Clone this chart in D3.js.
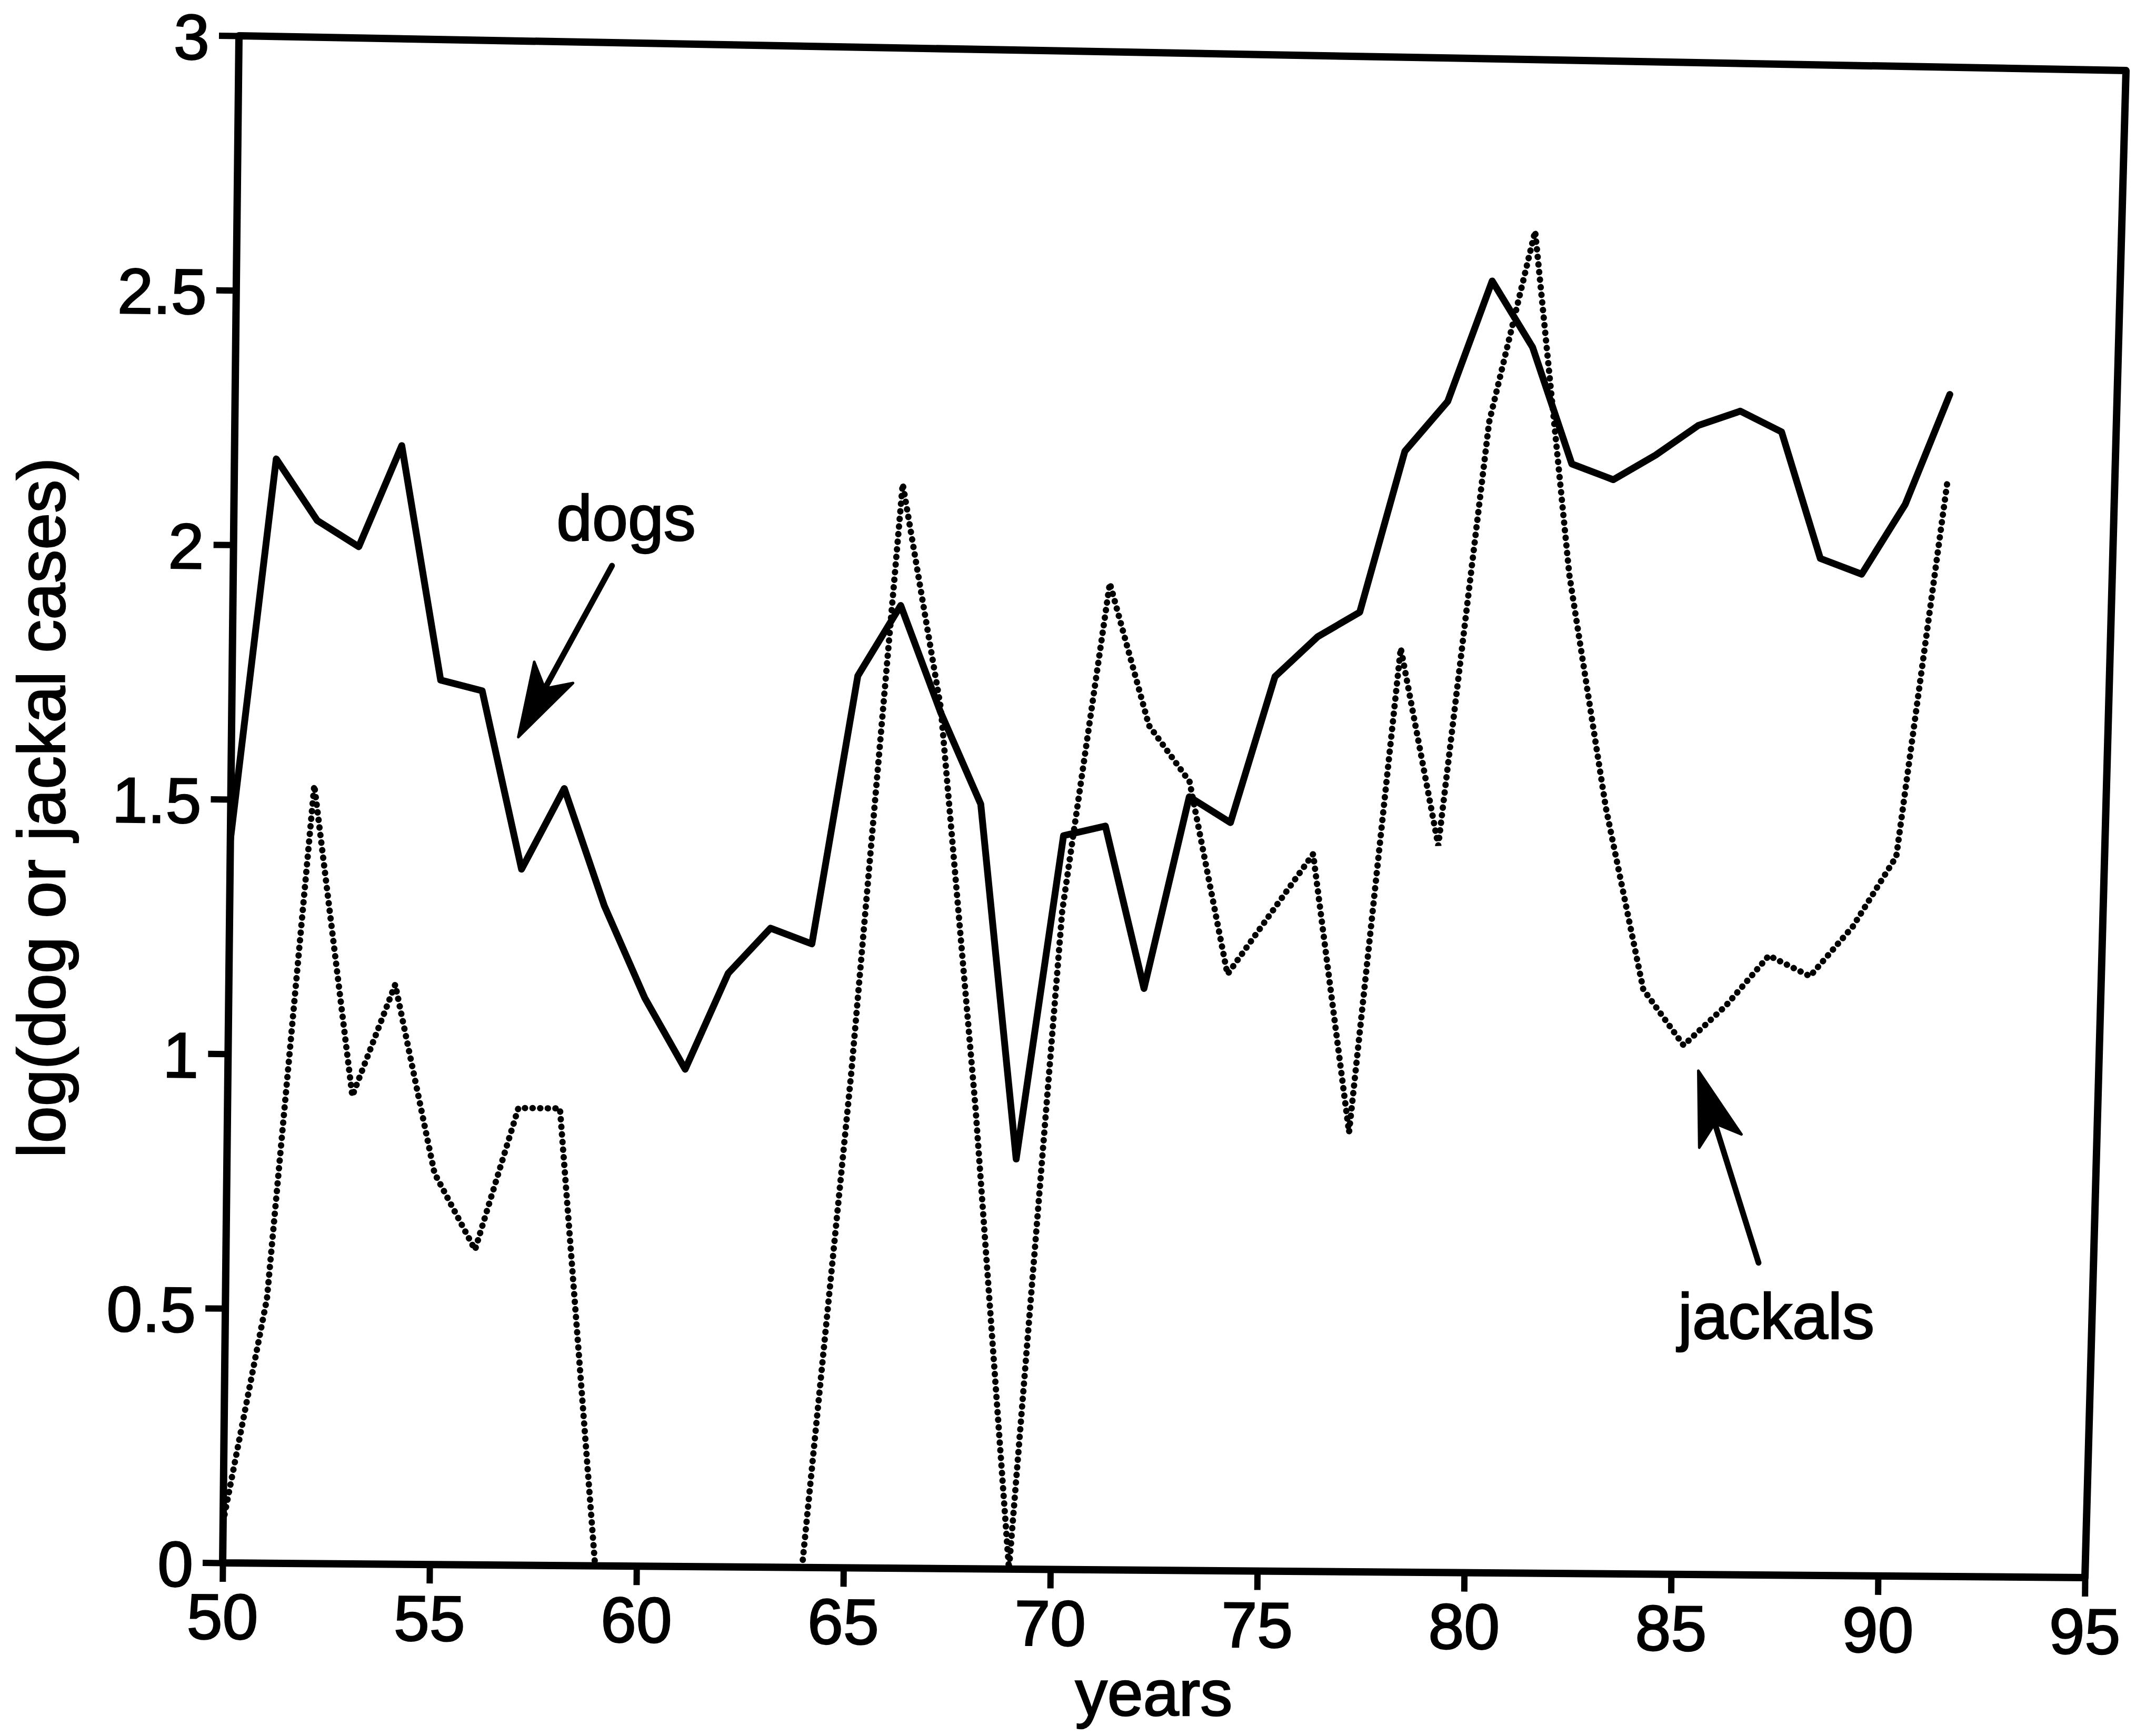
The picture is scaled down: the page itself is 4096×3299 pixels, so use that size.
<!DOCTYPE html>
<html>
<head>
<meta charset="utf-8">
<script src="https://cdn.jsdelivr.net/npm/d3@7"></script>
<style>
  html, body { margin: 0; padding: 0; background: #fff; }
  svg { display: block; }
  text { font-family: "Liberation Sans", Arial, Helvetica, sans-serif; fill: #000; stroke: #000; stroke-width: 2.5px; }
</style>
</head>
<body>
<div id="chart"></div>
<script>
// log(dog or jackal cases) per year
var years = [50,51,52,53,54,55,56,57,58,59,60,61,62,63,64,65,66,67,68,69,70,
             71,72,73,74,75,76,77,78,79,80,81,82,83,84,85,86,87,88,89,90,91];

var dogs = [1.42,2.17,2.05,2.00,2.20,1.74,1.72,1.37,1.53,1.30,1.12,0.98,1.17,1.26,1.23,1.76,1.90,1.69,1.51,0.81,1.45,
            1.47,1.15,1.53,1.48,1.77,1.85,1.90,2.22,2.32,2.56,2.43,2.20,2.17,2.22,2.28,2.31,2.27,2.02,1.99,2.13,2.35];

// no jackal cases reported 60-63, so no log value there
var jackals = [0.08,0.52,1.53,0.92,1.14,0.77,0.62,0.90,0.90,0.00,null,null,null,null,0.00,0.98,2.14,1.70,0.91,0.00,1.30,
               1.95,1.67,1.56,1.18,1.30,1.42,0.87,1.83,1.44,2.28,2.66,1.98,1.52,1.16,1.05,1.13,1.23,1.19,1.29,1.43,2.18];

var xTicks = [50,55,60,65,70,75,80,85,90,95];
var yTicks = [0,0.5,1,1.5,2,2.5,3];
var yTickLabels = ["0","0.5","1","1.5","2","2.5","3"];

var width = 4096, height = 3299;

// the printed frame is not square on the page (scan), so keep its four corners
var TL = [454, 68], TR = [4039, 134], BL = [423, 2970], BR = [3961, 2998];

var xs = d3.scaleLinear().domain([50, 95]).range([0, 1]);
var ys = d3.scaleLinear().domain([0, 3]).range([1, 0]);

function warp(u, v) {
  return [
    (1-u)*(1-v)*TL[0] + u*(1-v)*TR[0] + (1-u)*v*BL[0] + u*v*BR[0],
    (1-u)*(1-v)*TL[1] + u*(1-v)*TR[1] + (1-u)*v*BL[1] + u*v*BR[1]
  ];
}
function pt(yr, val) { return warp(xs(yr), ys(val)); }

var svg = d3.select("#chart").append("svg")
    .attr("width", width)
    .attr("height", height);

svg.append("rect").attr("width", width).attr("height", height).attr("fill", "#fff");

var fontSize = 122;

// bottom axis, laid along the bottom edge of the frame
var bLen = Math.hypot(BR[0]-BL[0], BR[1]-BL[1]);
var bAng = Math.atan2(BR[1]-BL[1], BR[0]-BL[0]) * 180 / Math.PI;
var xAxisScale = d3.scaleLinear().domain([50, 95]).range([0, bLen]);

var gx = svg.append("g")
    .attr("transform", "translate(" + BL[0] + "," + BL[1] + ") rotate(" + bAng + ")")
    .call(d3.axisBottom(xAxisScale).tickValues(xTicks).tickSize(36).tickPadding(22).tickSizeOuter(0));
gx.select(".domain").remove();
gx.selectAll(".tick line").attr("stroke", "#000").attr("stroke-width", 12);
gx.selectAll(".tick text").attr("font-size", fontSize).attr("font-family", null);

// left axis, laid along the left edge
var lLen = Math.hypot(BL[0]-TL[0], BL[1]-TL[1]);
var lAng = Math.atan2(-(BL[0]-TL[0]), BL[1]-TL[1]) * 180 / Math.PI;
var yAxisScale = d3.scaleLinear().domain([0, 3]).range([lLen, 0]);

var gy = svg.append("g")
    .attr("transform", "translate(" + TL[0] + "," + TL[1] + ") rotate(" + lAng + ")")
    .call(d3.axisLeft(yAxisScale).tickValues(yTicks).tickSize(38).tickPadding(18).tickSizeOuter(0)
      .tickFormat(function(d, i){ return yTickLabels[i]; }));
gy.select(".domain").remove();
gy.selectAll(".tick line").attr("stroke", "#000").attr("stroke-width", 12);
gy.selectAll(".tick text").attr("font-size", fontSize).attr("font-family", null).attr("dy", "0.37em");

// frame
svg.append("path")
    .attr("d", "M" + [TL, TR, BR, BL].map(function(p){ return p.join(","); }).join("L") + "Z")
    .attr("fill", "none")
    .attr("stroke", "#000")
    .attr("stroke-width", 14)
    .attr("stroke-linejoin", "round");

// series
var jackData = years.map(function(yr, i){ return {yr: yr, v: jackals[i]}; });
var dogData  = years.map(function(yr, i){ return {yr: yr, v: dogs[i]}; });

var line = d3.line()
    .defined(function(d){ return d.v !== null; })
    .x(function(d){ return pt(d.yr, d.v)[0]; })
    .y(function(d){ return pt(d.yr, d.v)[1]; });

svg.append("path")
    .datum(jackData)
    .attr("class", "jackals")
    .attr("d", line)
    .attr("fill", "none")
    .attr("stroke", "#000")
    .attr("stroke-width", 12)
    .attr("stroke-linecap", "round")
    .attr("stroke-dasharray", "0.5 14");

svg.append("path")
    .datum(dogData)
    .attr("class", "dogs")
    .attr("d", line)
    .attr("fill", "none")
    .attr("stroke", "#000")
    .attr("stroke-width", 13)
    .attr("stroke-linejoin", "round")
    .attr("stroke-linecap", "round");

// axis titles
var bMid = warp(0.5, 1);
svg.append("text")
    .attr("x", bMid[0])
    .attr("y", bMid[1] + 276)
    .attr("text-anchor", "middle")
    .attr("font-size", fontSize)
    .text("years");

var lMid = warp(0, 0.5);
svg.append("text")
    .attr("transform", "translate(" + (lMid[0] - 316) + "," + (lMid[1] + 16) + ") rotate(-90)")
    .attr("text-anchor", "middle")
    .attr("font-size", 126)
    .text("log(dog or jackal cases)");

// labels with arrows
var notes = [
  {text: "dogs",    at: [59.4, 2.02], from: [59.07, 1.97], to: [56.88, 1.63]},
  {text: "jackals", at: [87.4, 0.47], from: [86.93, 0.62], to: [85.37, 1.00]}
];

notes.forEach(function(n){
  var p = pt(n.at[0], n.at[1]);
  svg.append("text")
      .attr("x", p[0]).attr("y", p[1])
      .attr("text-anchor", "middle")
      .attr("font-size", fontSize)
      .text(n.text);

  var a = pt(n.from[0], n.from[1]), b = pt(n.to[0], n.to[1]);
  var dx = b[0]-a[0], dy = b[1]-a[1], len = Math.hypot(dx, dy);
  var ux = dx/len, uy = dy/len, nx = -uy, ny = ux;
  var headLen = 140, headW = 42;
  var back = [b[0]-ux*headLen*0.75, b[1]-uy*headLen*0.75];

  svg.append("line")
      .attr("x1", a[0]).attr("y1", a[1])
      .attr("x2", back[0]).attr("y2", back[1])
      .attr("stroke", "#000")
      .attr("stroke-width", 11)
      .attr("stroke-linecap", "round");

  var head = [
    b,
    [b[0]-ux*headLen+nx*headW, b[1]-uy*headLen+ny*headW],
    back,
    [b[0]-ux*headLen-nx*headW, b[1]-uy*headLen-ny*headW]
  ];
  svg.append("path")
      .attr("d", "M" + head.map(function(q){ return q.join(","); }).join("L") + "Z")
      .attr("fill", "#000")
      .attr("stroke", "#000")
      .attr("stroke-width", 5)
      .attr("stroke-linejoin", "round");
});
</script>
</body>
</html>
